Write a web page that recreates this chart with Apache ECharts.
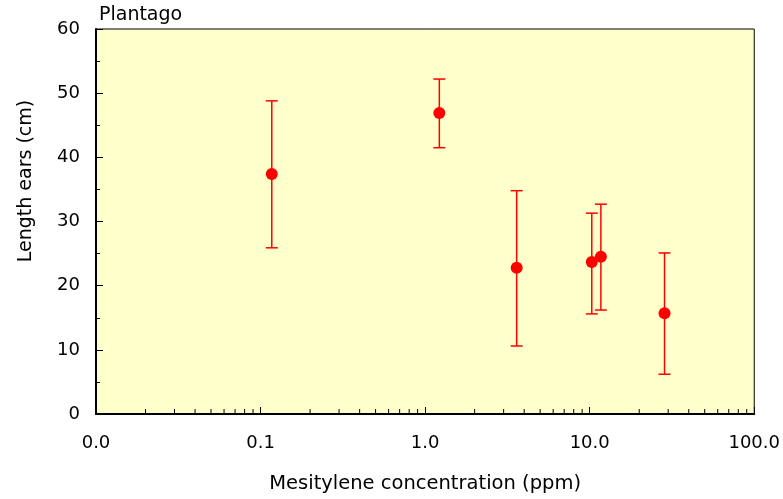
<!DOCTYPE html>
<html>
<head>
<meta charset="utf-8">
<script src="https://cdn.jsdelivr.net/npm/echarts@6/dist/echarts.min.js"></script>
<style>
  html, body { margin: 0; padding: 0; background: #fff; }
  #chart { width: 783px; height: 499px; }
</style>
</head>
<body>
<div id="chart"></div>
<script>
// data
const concentration = [0.117, 1.22, 3.6, 10.3, 11.7, 28.5];
const lengthMean = [37.4, 46.9, 22.8, 23.7, 24.5, 15.7];
const errLow = [25.9, 41.5, 10.6, 15.6, 16.2, 6.2];
const errHigh = [48.8, 52.2, 34.8, 31.3, 32.7, 25.1];

// log minor ticks (2..9 per decade)
const decades = [0.01, 0.1, 1, 10];
const minorTicksX = [];
decades.forEach(d => { for (let k = 2; k <= 9; k++) minorTicksX.push(+(d * k).toPrecision(3)); });

const FONT = 'DejaVu Sans';
const red = '#ff0000';

const chart = echarts.init(document.getElementById('chart'));

/*误差线*/
const errorData = concentration.map((x, i) => [x, errLow[i], errHigh[i]]);

const option = {
  animation: false,
  grid: {
    left: 96, right: 27, top: 29, bottom: 85,
    show: true,
    backgroundColor: '#ffffcc',
    borderColor: '#000',
    borderWidth: 1
  },
  graphic: [
    {
      type: 'text', left: 99, top: 6,
      style: { text: 'Plantago', font: '19px ' + FONT, fill: '#000' }
    },
    {
      type: 'text', x: 26, y: 181, rotation: Math.PI / 2,
      style: { text: 'Length ears (cm)', font: '19px ' + FONT, fill: '#000', align: 'center', verticalAlign: 'middle' }
    }
  ],
  xAxis: {
    type: 'log',
    logBase: 10,
    min: 0.01,
    max: 100,
    name: 'Mesitylene concentration (ppm)',
    nameLocation: 'middle',
    nameGap: 60,
    nameTextStyle: { fontFamily: FONT, fontSize: 19.5, color: '#000' },
    axisLine: { lineStyle: { color: '#000', width: 2 } },
    axisTick: { inside: true, length: 7, lineStyle: { color: '#000' } },
    axisLabel: {
      fontFamily: FONT, fontSize: 18, color: '#000', margin: 20,
      formatter: v => Number(v).toFixed(1)
    },
    splitLine: { show: false }
  },
  yAxis: {
    type: 'value',
    min: 0,
    max: 60,
    interval: 10,
    axisLine: { show: true, lineStyle: { color: '#000', width: 2 } },
    axisTick: { show: true, inside: true, length: 7, lineStyle: { color: '#000' } },
    minorTick: { show: true, splitNumber: 2, length: 4, lineStyle: { color: '#000' } },
    axisLabel: { fontFamily: FONT, fontSize: 18, color: '#000', margin: 16 },
    splitLine: { show: false }
  },
  series: [
    {
      type: 'custom',
      silent: true,
      clip: false,
      data: minorTicksX.map(v => [v, 0]),
      renderItem: (params, api) => {
        const p = api.coord([api.value(0), 0]);
        return {
          type: 'line',
          shape: { x1: p[0], y1: p[1], x2: p[0], y2: p[1] - 5 },
          style: { stroke: '#000', lineWidth: 1 }
        };
      }
    },
    {
      type: 'custom',
      silent: true,
      data: errorData,
      renderItem: (params, api) => {
        const x = api.value(0);
        const lo = api.coord([x, api.value(1)]);
        const hi = api.coord([x, api.value(2)]);
        const w = 6;
        const st = { stroke: red, lineWidth: 1.5 };
        return {
          type: 'group',
          children: [
            { type: 'line', shape: { x1: lo[0], y1: lo[1], x2: hi[0], y2: hi[1] }, style: st },
            { type: 'line', shape: { x1: lo[0] - w, y1: lo[1], x2: lo[0] + w, y2: lo[1] }, style: st },
            { type: 'line', shape: { x1: hi[0] - w, y1: hi[1], x2: hi[0] + w, y2: hi[1] }, style: st }
          ]
        };
      },
      z: 3
    },
    {
      type: 'scatter',
      symbol: 'circle',
      symbolSize: 12,
      itemStyle: { color: red, opacity: 1 },
      data: concentration.map((x, i) => [x, lengthMean[i]]),
      z: 4
    }
  ]
};

chart.setOption(option);
</script>
</body>
</html>
